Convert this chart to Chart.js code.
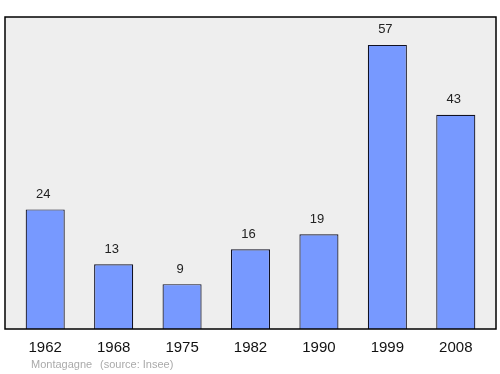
<!DOCTYPE html>
<html>
<head>
<meta charset="utf-8">
<script src="https://cdn.jsdelivr.net/npm/chart.js@4"></script>
<style>
  html, body { margin: 0; padding: 0; background: #fff; }
  #wrap { width: 500px; height: 374px; }
</style>
</head>
<body>
<div id="wrap"><canvas id="popChart" width="500" height="374"></canvas></div>
<script>
// --- Data ---
const years = ['1962', '1968', '1975', '1982', '1990', '1999', '2008'];
const population = [24, 13, 9, 16, 19, 57, 43];
const placeName = 'Montagagne';
const sourceText = '(source: Insee)';

// frame + value labels + footer, drawn around the chart area
const framePlugin = {
    id: 'frame',
    beforeDraw(chart) {
        const { ctx, chartArea } = chart;
        ctx.save();
        ctx.fillStyle = '#eeeeee';
        ctx.fillRect(5, chartArea.top, 491, chartArea.bottom - chartArea.top);
        ctx.restore();
    },
    afterDatasetsDraw(chart) {
        const { ctx, chartArea } = chart;
        ctx.save();
        ctx.strokeStyle = '#000';
        ctx.lineWidth = 1.5;
        ctx.strokeRect(5, chartArea.top, 491, chartArea.bottom - chartArea.top);

        // values above bars (slightly left of centre, like the original)
        ctx.font = '13px "Liberation Sans", Arial, sans-serif';
        ctx.fillStyle = '#222';
        ctx.textAlign = 'center';
        ctx.textBaseline = 'middle';
        const meta = chart.getDatasetMeta(0);
        meta.data.forEach((bar, i) => {
            ctx.fillText(String(population[i]), bar.x - 2, bar.y - 15);
        });

        // footer
        ctx.font = '11px "Liberation Sans", Arial, sans-serif';
        ctx.fillStyle = '#aaaaaa';
        ctx.textAlign = 'left';
        ctx.fillText(placeName, 31, 365);
        ctx.fillText(sourceText, 100, 365);
        ctx.restore();
    }
};

new Chart(document.getElementById('popChart'), {
    type: 'bar',
    data: {
        labels: years,
        datasets: [{
            data: population,
            backgroundColor: '#7799ff',
            borderColor: '#111122',
            borderWidth: 1.2,
            barPercentage: 0.571,
            categoryPercentage: 1.0
        }]
    },
    options: {
        responsive: false,
        animation: false,
        layout: { padding: { left: 11, right: 10, top: 17, bottom: 7 } },
        plugins: { legend: { display: false }, tooltip: { enabled: false } },
        scales: {
            x: {
                grid: { display: false, drawTicks: false },
                border: { display: false },
                ticks: {
                    color: '#111',
                    font: { size: 15, family: '"Liberation Sans", Arial, sans-serif' },
                    padding: 10
                }
            },
            y: {
                display: false,
                min: 0,
                max: 62.6
            }
        }
    },
    plugins: [framePlugin]
});
</script>
</body>
</html>
